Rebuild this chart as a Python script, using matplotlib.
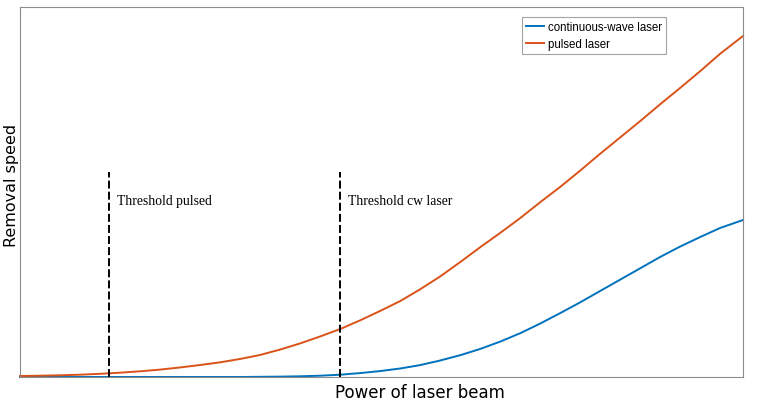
import matplotlib.pyplot as plt

# power of laser beam (arbitrary units)
power = [0, 2.8, 5.5, 8.3, 11.1, 13.8, 16.6, 19.4, 22.1, 24.9,
         27.7, 30.4, 33.2, 36.0, 38.7, 41.5, 44.3, 47.0, 49.8, 52.6,
         55.3, 58.1, 60.9, 63.6, 66.4, 69.2, 71.9, 74.7, 77.5, 80.2,
         83.0, 85.8, 88.5, 91.3, 94.1, 96.8, 100]
# removal speed (arbitrary units)
speed_cw = [0, 0, 0, 0, 0, 0, 0, 0, 0, 0,
            0, 0, 0.05, 0.10, 0.19, 0.35, 0.62, 1.05, 1.60, 2.30,
            3.20, 4.45, 5.90, 7.55, 9.55, 11.85, 14.40, 17.25, 20.20, 23.20,
            26.30, 29.40, 32.40, 35.25, 37.85, 40.25, 42.43]
speed_pulsed = [0.27, 0.35, 0.46, 0.62, 0.86, 1.16, 1.54, 2.00, 2.57, 3.24,
                3.97, 4.86, 5.95, 7.43, 9.05, 10.95, 12.97, 15.27, 17.84, 20.54,
                23.65, 27.16, 31.08, 35.0, 38.92, 42.97, 47.16, 51.35, 55.81, 60.27,
                64.73, 69.19, 73.65, 78.11, 82.70, 87.30, 92.16]

thresholds = [12.3, 44.3]
threshold_labels = ["Threshold pulsed", "Threshold cw laser"]
threshold_top = 55.4

fig = plt.figure(figsize=(7.84, 4.06), dpi=100)
ax = fig.add_axes([20 / 784, 28 / 406, 723 / 784, 370 / 406])

ax.plot(power, speed_cw, color="#0072BD", lw=1.4, label="continuous-wave laser", clip_on=False)
ax.plot(power, speed_pulsed, color="#D95319", lw=1.4, label="pulsed laser", clip_on=False)

for xt, lab in zip(thresholds, threshold_labels):
    ax.plot([xt, xt], [0, threshold_top], color="black", lw=1.4, dashes=(4.1, 1.6))
    ax.text(xt + 1.1, 47.8, lab, family="Liberation Serif", fontsize=9.8,
            va="center", ha="left")

ax.set_xlim(0, 100)
ax.set_ylim(0, 100)
ax.set_xticks([])
ax.set_yticks([])
for s in ax.spines.values():
    s.set_color("#8c8c8c")
    s.set_linewidth(0.8)

# axis labels placed by hand, like in the original
fig.text(420 / 784, 1 - 393 / 406, "Power of laser beam", fontsize=12,
         ha="center", va="center")
fig.text(12 / 784, 1 - 185 / 406, "Removal speed", fontsize=11.5,
         ha="center", va="center", rotation=90)

leg = ax.legend(loc="upper right", bbox_to_anchor=((666 - 20) / 723, 1 - 10 / 370),
                borderaxespad=0,
                prop={"family": "Liberation Sans", "size": 8.3}, fancybox=False,
                handlelength=1.6, handletextpad=0.3, borderpad=0.35, labelspacing=0.45)
leg.get_frame().set_edgecolor("#8c8c8c")
leg.get_frame().set_linewidth(0.8)

fig.savefig("out.png", dpi=100)
